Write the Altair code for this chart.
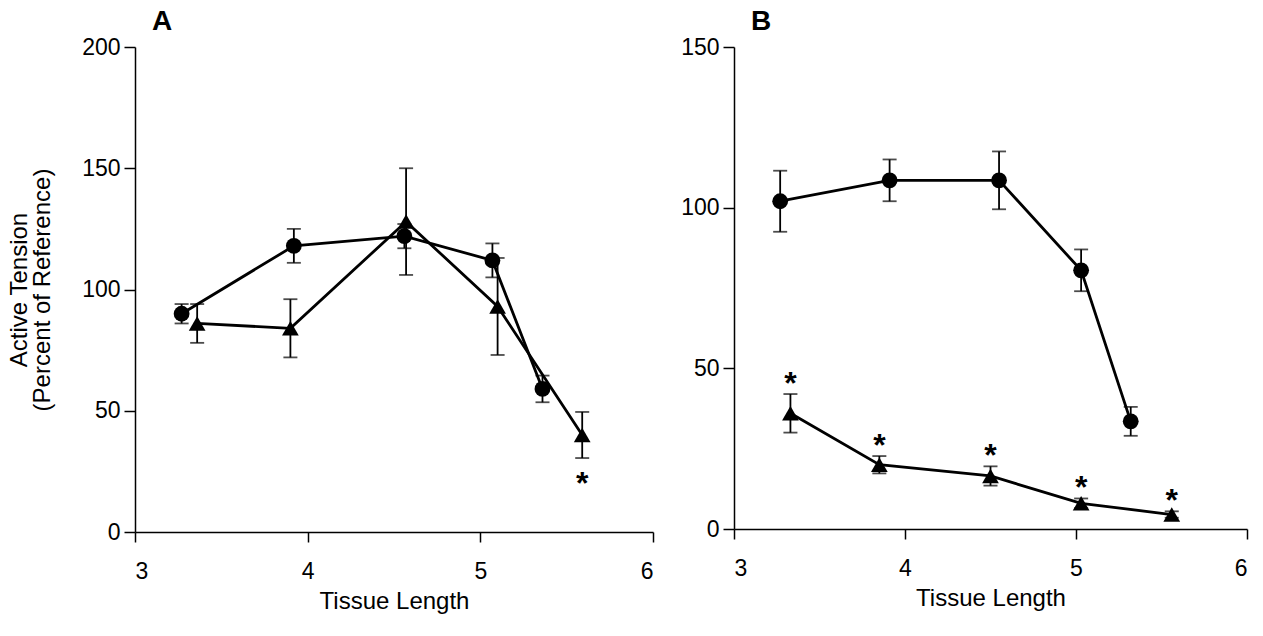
import altair as alt
import pandas as pd

# ---------------- data ----------------
# Panel A
a_circle_x = [3.27, 3.92, 4.56, 5.07, 5.36]
a_circle_y = [90, 118, 122, 112, 59]
a_circle_err = [4, 7, 5, 7, 5.5]
a_tri_x = [3.36, 3.90, 4.57, 5.10, 5.59]
a_tri_y = [86, 84, 128, 93, 40]
a_tri_err = [8, 12, 22, 20, 9.5]
a_star_below = [False, False, False, False, True]

# Panel B
b_circle_x = [3.27, 3.91, 4.55, 5.03, 5.32]
b_circle_y = [102, 108.5, 108.5, 80.5, 33.5]
b_circle_err = [9.5, 6.5, 9, 6.5, 4.5]
b_tri_x = [3.33, 3.85, 4.50, 5.03, 5.56]
b_tri_y = [36, 20, 16.5, 8, 4.5]
b_tri_err = [6, 2.7, 3, 1.5, 1]
b_star_above = [True, True, True, True, True]

x_ticks = [3, 4, 5, 6]
a_y_ticks = [0, 50, 100, 150, 200]
b_y_ticks = [0, 50, 100, 150]

FONT = "Liberation Sans"


def frame(xs, ys, errs, series):
    return pd.DataFrame({
        "x": xs, "y": ys,
        "lo": [y - e for y, e in zip(ys, errs)],
        "hi": [y + e for y, e in zip(ys, errs)],
        "series": series,
    })


def panel(cx, cy, ce, tx, ty, te, star_flags, star_above, ymax, yticks,
          letter, width, height, show_ytitle):
    circ = frame(cx, cy, ce, "circle")
    tri = frame(tx, ty, te, "triangle")
    xs = alt.Scale(domain=[3, 6], nice=False, zero=False)
    ys = alt.Scale(domain=[0, ymax], nice=False)
    xax = alt.Axis(values=x_ticks, format="d", title="Tissue Length", grid=False,
                   labelFontSize=23, titleFontSize=24, titleFontWeight="normal",
                   labelPadding=18, titlePadding=6, tickSize=10,
                   domainColor="black", tickColor="black", domainWidth=1.5,
                   tickWidth=1.5, labelColor="black", titleColor="black",
                   labelFont=FONT, titleFont=FONT)
    ytitle = ["Active Tension", "(Percent of Reference)"] if show_ytitle else None
    yax_kwargs = dict(values=yticks, grid=False, labelFontSize=23,
                      tickSize=11, labelPadding=4,
                      domainColor="black", tickColor="black", domainWidth=1.5,
                      tickWidth=1.5, labelColor="black", labelFont=FONT)
    if ytitle:
        yax = alt.Axis(title=ytitle, titleFontSize=24, titleFontWeight="normal",
                       titleLineHeight=23, titlePadding=27, titleColor="black",
                       titleFont=FONT, **yax_kwargs)
    else:
        yax = alt.Axis(title=None, **yax_kwargs)

    layers = []
    for df, shape in [(circ, "circle"), (tri, "triangle-up")]:
        base = alt.Chart(df)
        line = base.mark_line(color="black", strokeWidth=2.8).encode(
            x=alt.X("x:Q", scale=xs, axis=xax),
            y=alt.Y("y:Q", scale=ys, axis=yax),
            order="x:Q",
        )
        rule = base.mark_rule(color="black", strokeWidth=1.8).encode(
            x="x:Q", y="lo:Q", y2="hi:Q")
        cap_hi = base.mark_tick(color="black", thickness=1.8, size=14,
                                orient="horizontal").encode(x="x:Q", y="hi:Q")
        cap_lo = base.mark_tick(color="black", thickness=1.8, size=14,
                                orient="horizontal").encode(x="x:Q", y="lo:Q")
        pts = base.mark_point(shape=shape, filled=True, color="black",
                              opacity=1, size=250 if shape == "circle" else 280
                              ).encode(x="x:Q", y="y:Q")
        layers += [line, rule, cap_hi, cap_lo, pts]

    stars = tri[[f for f in star_flags]]
    if star_above:
        star = alt.Chart(stars).mark_text(text="*", fontSize=32, fontWeight="bold",
                                          font=FONT, baseline="middle", dy=-10,
                                          color="black").encode(x="x:Q", y="hi:Q")
    else:
        star = alt.Chart(stars).mark_text(text="*", fontSize=32, fontWeight="bold",
                                          font=FONT, baseline="middle", dy=26,
                                          color="black").encode(x="x:Q", y="lo:Q")
    layers.append(star)

    return alt.layer(*layers).properties(
        width=width, height=height,
        title=alt.TitleParams(letter, anchor="start", frame="group", fontSize=28,
                              fontWeight="bold", font=FONT, color="black",
                              dx=17, offset=0),
    )


chart_a = panel(a_circle_x, a_circle_y, a_circle_err, a_tri_x, a_tri_y, a_tri_err,
                a_star_below, False, 200, a_y_ticks, "A", 518, 485, True)
chart_b = panel(b_circle_x, b_circle_y, b_circle_err, b_tri_x, b_tri_y, b_tri_err,
                b_star_above, True, 150, b_y_ticks, "B", 513, 482, False)

chart = alt.hconcat(chart_a, chart_b, spacing=81, bounds="flush").properties(
    padding={"left": 7, "top": 8, "right": 5, "bottom": 5},
    background="white",
).configure_view(stroke=None)

chart.save("out.html", embed_options={"renderer": "svg", "actions": False})
